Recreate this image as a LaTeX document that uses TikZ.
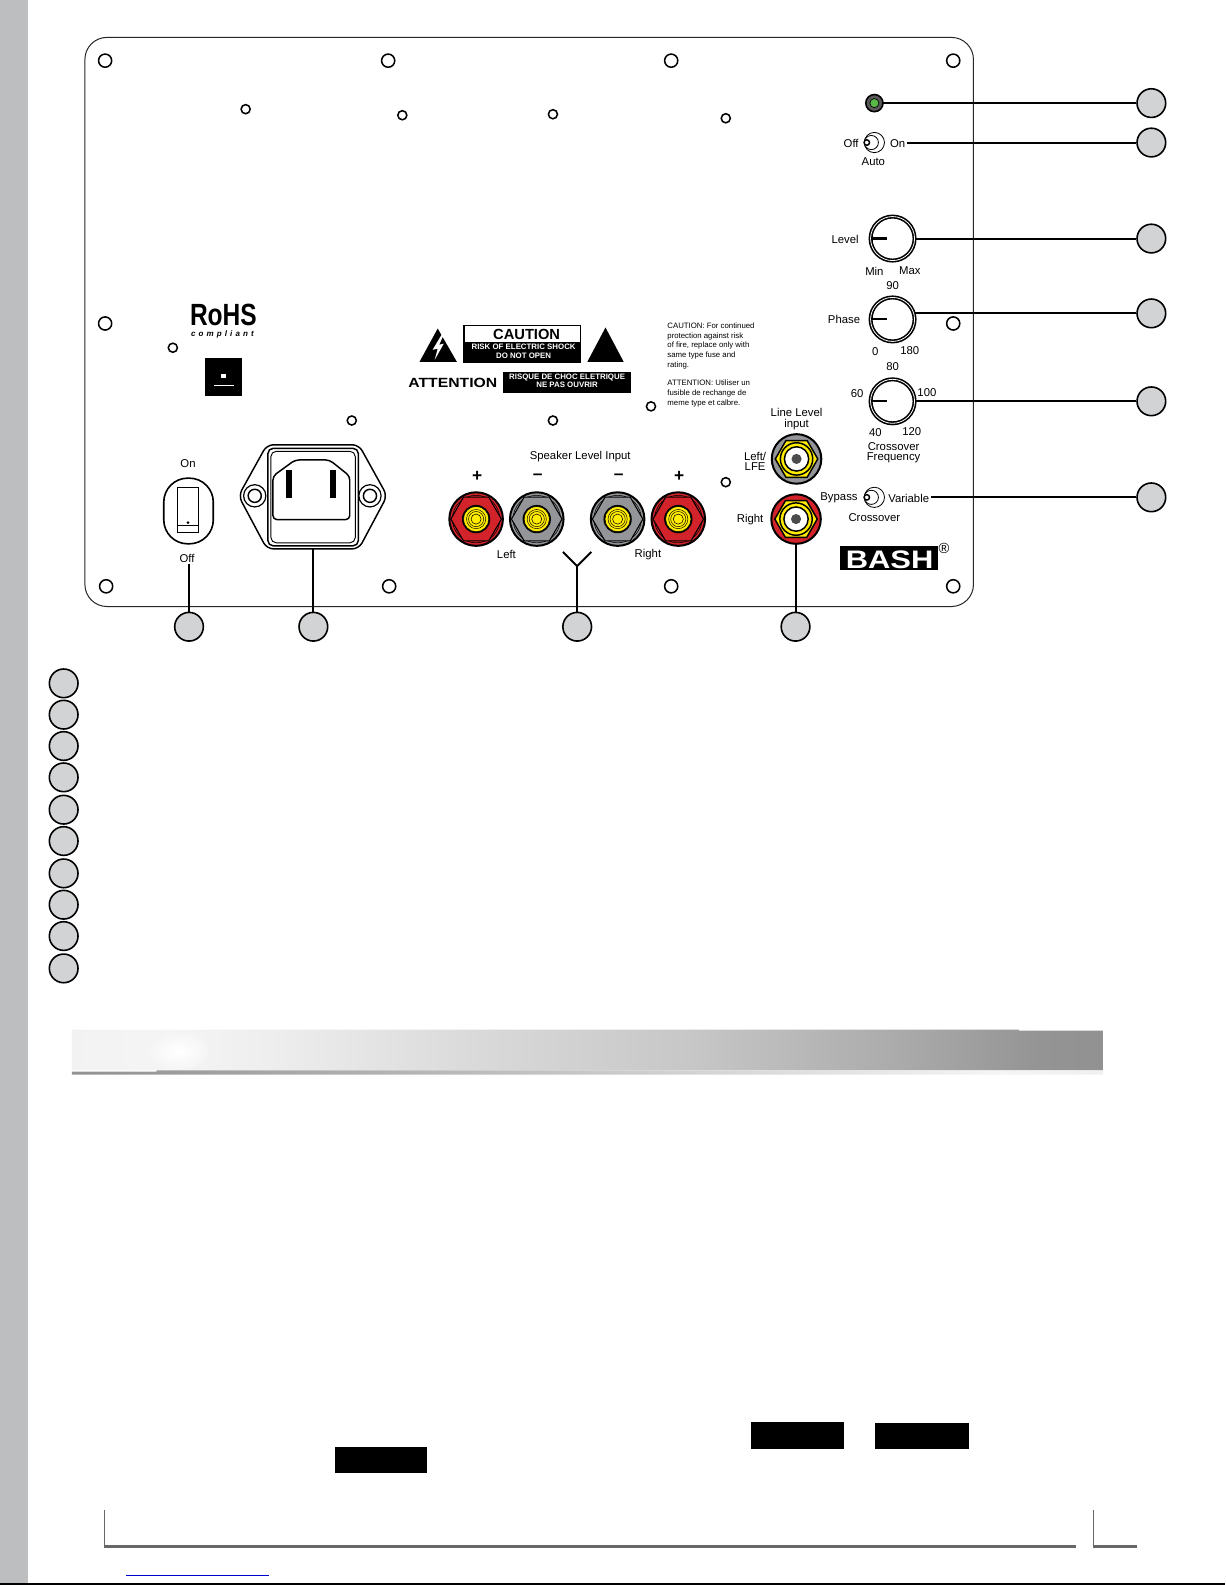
\documentclass[tikz,border=0pt]{standalone}
\usepackage{fontspec}
\setmainfont{Liberation Sans}
\usepackage{tikz, xcolor}
\usetikzlibrary{calc}
\definecolor{calltone}{HTML}{D1D3D4}
\definecolor{striptone}{HTML}{BCBEC0}
\definecolor{postred}{HTML}{D2232A}
\definecolor{postgray}{HTML}{939598}
\definecolor{postyellow}{HTML}{FFEC00}
\definecolor{ledgreen}{HTML}{58B947}
\definecolor{darkrule}{HTML}{666766}
\pgfdeclarehorizontalshading{barshade}{100bp}{color(0bp)=(white!95!black); color(25bp)=(white!95!black); color(30bp)=(white!96!black); color(35bp)=(white!93!black); color(45bp)=(white!85!black); color(55bp)=(white!78!black); color(65bp)=(white!67!black); color(72bp)=(white!58!black); color(75bp)=(white!57!black); color(100bp)=(white!57!black)}
\pgfdeclarehorizontalshading{ruleshade}{100bp}{color(0bp)=(white!57!black); color(25bp)=(white!57!black); color(50bp)=(white!78!black); color(70bp)=(white!96!black); color(75bp)=(white!94!black); color(100bp)=(white!94!black)}
\tikzset{
  lbl/.style={inner sep=0pt, yshift=-.75pt, font=\fontsize{8.5}{9}\selectfont},
  tiny lbl/.style={inner sep=0pt, align=left, font=\fontsize{5.85}{7.3}\selectfont},
  white lbl/.style={inner sep=0pt, white, align=center, font=\fontsize{5.9}{6.2}\selectfont\bfseries},
  callout/.style={circle, draw, fill=calltone, line width=1.2pt, minimum size=21.5pt, inner sep=0pt},
  knob/.style={circle, draw, fill=white, line width=1.2pt, double=white, double distance=.6pt, minimum size=33pt, inner sep=0pt},
  wire/.style={line width=1.45pt},
  hole/.style={line width=1.15pt, fill=white}
}
\newcommand{\bindpost}[3]{
  \begin{scope}[shift={(#1,#2)}]
    \draw[line width=1.5pt, fill=#3] (0,0) circle[radius=26.5];
    \draw[line width=.4pt] (0,0) circle[radius=23.5];
    \draw[line width=.8pt, fill=#3] (0:25) -- (60:25) -- (120:25) -- (180:25) -- (240:25) -- (300:25) -- cycle;
    \fill[black] (0,0) circle[radius=14];
    \draw[line width=.4pt, fill=postyellow] (0,0) circle[radius=12.5];
    \draw[line width=.35pt] (0,0) circle[radius=9.5];
    \draw[line width=.35pt] (0,0) circle[radius=7.5];
    \draw[line width=.4pt, fill=postyellow] (0,0) circle[radius=5];
  \end{scope}
}
\newcommand{\rcajack}[3]{
  \begin{scope}[shift={(#1,#2)}]
    \draw[line width=1.5pt, fill=#3] (0,0) circle[radius=24.5];
    \draw[line width=1.1pt, fill=postyellow] (0:21) -- (60:21) -- (120:21) -- (180:21) -- (240:21) -- (300:21) -- cycle;
    \draw[line width=1.1pt, fill=postyellow] (0,0) circle[radius=16];
    \draw[line width=1.1pt, fill=white] (0,0) circle[radius=12];
    \fill[black!70] (0,0) circle[radius=5];
  \end{scope}
}
\begin{document}
\begin{tikzpicture}[x=.758pt, y=-.758pt]
  \useasboundingbox (0,0) rectangle (1212,1568);
  \fill[striptone] (0,0) rectangle (28,1568);
  \draw[line width=.75pt, black!85, rounded corners=16.5pt] (84,37) rectangle (963,600);
  % mounting holes
  \foreach \x/\y in {104/60, 384/60, 664/60, 943/60, 104/320, 943/320, 105/580, 385/580, 664/580, 943/580}
    \draw[hole] (\x,\y) circle[radius=6.5];
  \foreach \x/\y in {243/108, 398/114, 547/113, 718/117, 171/344, 348/416, 547/416, 644/402, 718/477}
    \draw[hole] (\x,\y) circle[radius=4.5];

  % led and toggles
  \draw[line width=1.2pt, fill=black!65] (865,102) circle[radius=8.5];
  \draw[line width=.5pt, fill=ledgreen] (865,102) circle[radius=4.5];
  \node[circle, inner sep=0pt, minimum size=13pt] (led) at (865,102) {};
  \foreach \x/\y in {865/141, 865/492} {
    \draw[line width=.6pt, fill=white] (\x,\y) circle[radius=10];
    \draw[line width=.6pt, fill=white] (\x-3,\y) circle[radius=7];
    \draw[line width=1.1pt, fill=white] (\x-7.5,\y) circle[radius=2.7];
  }
  \node[lbl] (autooff) at (842,141) {Off};
  \node[lbl] (autoon) at (888,141) {On};
  \node[lbl] (autoname) at (864,159) {Auto};

  % knobs
  \node[knob] (levelknob) at (883,236) {};
  \node[knob] (phaseknob) at (883,316) {};
  \node[knob] (xoverknob) at (883,397) {};
  \draw[line width=2.2pt] (862,236) -- (877,236);
  \draw[line width=1.4pt] (862,316) -- (877,316);
  \draw[line width=1.6pt] (862,396.5) -- (877,396.5);
  \node[lbl] (levelname) at (836,236) {Level};
  \node[lbl] (levelmin) at (865,267) {Min};
  \node[lbl] (levelmax) at (900,267) {Max};
  \node[lbl] (phasemid) at (883,282) {90};
  \node[lbl] (phasename) at (835,315) {Phase};
  \node[lbl] (phaselow) at (866,347) {0};
  \node[lbl] (phasehigh) at (900,346) {180};
  \node[lbl] (xovermid) at (883,362) {80};
  \node[lbl] (xoverb) at (848,388) {60};
  \node[lbl] (xoverc) at (917,387) {100};
  \node[lbl] (xovera) at (866,427) {40};
  \node[lbl] (xoverd) at (902,426) {120};
  \node[lbl, align=center, font=\fontsize{8.5}{7.6}\selectfont] (xovername) at (884,447) {Crossover\\Frequency};

  \node[lbl] (bypassname) at (830,491) {Bypass};
  \node[lbl] (variablename) at (899,492) {Variable};
  \node[lbl] (crossname) at (865,511) {Crossover};

  % logos
  \node[lbl, font=\fontsize{23}{23}\selectfont\bfseries] (rohs) at (221,311) {\scalebox{.8}[1]{RoHS}};
  \node[lbl, font=\fontsize{6}{6}\selectfont\bfseries\itshape, text width=47pt, align=center] (compliant) at (220,329.5) {c\hfill o\hfill m\hfill p\hfill l\hfill i\hfill a\hfill n\hfill t};
  \fill[black] (203,354) rectangle (239,392);
  \fill[white] (218.5,370) rectangle (223.5,374);
  \draw[white, line width=.6pt] (212,381) -- (231,381);

  \fill[black] (415,358) -- (433,325) -- (452,358) -- cycle;
  \fill[white] (437,331) -- (428,346) -- (433,345) -- (430,356) -- (439,340) -- (434.5,341) -- (439,331) -- cycle;
  \fill[black] (581,358) -- (599,324) -- (617,358) -- cycle;
  \draw[line width=.9pt, fill=white] (459,322) rectangle (574.5,339);
  \fill[black] (458.5,338) rectangle (575,359);
  \node[lbl, font=\fontsize{11}{11}\selectfont\bfseries] (cautionname) at (521,330) {CAUTION};
  \node[white lbl] (cautionrisk) at (518,347.5) {RISK OF ELECTRIC SHOCK\\DO NOT OPEN};
  \node[lbl, font=\fontsize{10}{10}\selectfont\bfseries] (attentionname) at (448,378) {\scalebox{1.18}[1]{ATTENTION}};
  \fill[black] (498,368) rectangle (624,389);
  \node[white lbl] (attentionrisk) at (561,377) {RISQUE DE CHOC ELETRIQUE\\NE PAS OUVRIR};
  \node[tiny lbl, anchor=north west] (fusenote) at (660,319) {CAUTION: For continued\\protection against risk\\of fire, replace only with\\same type fuse and\\rating.\\[6.5pt]ATTENTION: Utiliser un\\fusible de rechange de\\meme type et calbre.};

  % rocker
  \draw[line width=1.2pt, rounded corners=18pt] (162,473) rectangle (211,538);
  \draw[line width=.7pt, fill=white] (176,482) rectangle (196,527);
  \draw[line width=.7pt] (176,520) -- (196,520);
  \fill[black] (186,517) circle[radius=1.4];
  \node[lbl] (rockeron) at (186,458) {On};
  \node[lbl] (rockeroff) at (185,551) {Off};

  % fuse module
  \draw[line width=1.1pt, rounded corners=5pt] (236,490.5) -- (264,440) -- (355,440) -- (383,490.5) -- (355,543) -- (264,543) -- cycle;
  \draw[line width=1.1pt, fill=white, rounded corners=4pt] (265,443.5) rectangle (354.5,540);
  \draw[line width=.7pt, rounded corners=4pt] (268,446.5) rectangle (351.5,537);
  \draw[line width=1.1pt, rounded corners=3pt] (270,471) -- (292,455) -- (326,455) -- (346,471) -- (346,514) -- (270,514) -- cycle;
  \fill[black] (283,465) rectangle (289,493);
  \fill[black] (326,465) rectangle (332,493);
  \foreach \x in {252,366} {
    \draw[line width=.9pt, fill=white] (\x,490.5) circle[radius=11];
    \draw[line width=1.1pt, fill=white] (\x,490.5) circle[radius=6.5];
  }

  % posts
  \bindpost{471}{513.5}{postred}
  \bindpost{531}{513.5}{postgray}
  \bindpost{611}{513.5}{postgray}
  \bindpost{671}{513.5}{postred}
  \rcajack{788}{454}{postgray}
  \rcajack{787.5}{513.5}{postred}
  \node[lbl] (speakername) at (574,451) {Speaker Level Input};
  \foreach \x/\s [count=\i] in {472/+, 532/--, 612/--, 672/+}
    \node[lbl, font=\fontsize{13}{13}\selectfont\bfseries] (sign\i) at (\x,470.5) {\s};
  \node[lbl] (leftname) at (501,548) {Left};
  \node[lbl] (rightname) at (641,548) {Right};
  \node[lbl, align=center, font=\fontsize{8.5}{8.2}\selectfont] (linename) at (788,413.5) {Line Level\\input};
  \node[lbl, align=center, font=\fontsize{8.5}{7.2}\selectfont] (lfename) at (747,455.5) {Left/\\LFE};
  \node[lbl] (rcaright) at (742,513) {Right};
  \coordinate (fusebot) at (310,543);
  \coordinate (rcabot) at (787,538);
  \coordinate (forkroot) at (571,560);
  \coordinate (forkleft) at (557,546);
  \coordinate (forkright) at (585,546);

  % bash badge
  \fill[black] (831,540) rectangle (928,564);
  \node[lbl, white, font=\fontsize{19}{19}\selectfont\bfseries] (bashname) at (880,552.5) {\scalebox{1.22}[1]{BASH}};
  \node[lbl, font=\fontsize{11}{11}\selectfont] (bashmark) at (934,542) {®};

  % callouts
  \foreach \y [count=\i] in {102,141,236,310,397,492}
    \node[callout] (r\i) at (1139,\y) {};
  \foreach \x [count=\i] in {187,310,571,787}
    \node[callout] (b\i) at (\x,620) {};
  \foreach \y [count=\i] in {676,707,738,769,801,832,864,895,926,958}
    \node[callout] (l\i) at (63,\y) {};

  \draw[wire] (led) -- (r1);
  \draw[wire, shorten <=1.5pt] (autoon.east |- r2) -- (r2);
  \draw[wire] (levelknob) -- (r3);
  \draw[wire] (r4) -- (r4 -| phaseknob.16);
  \draw[wire] (xoverknob) -- (r5);
  \draw[wire, shorten <=1pt] (variablename.east |- r6) -- (r6);
  \draw[wire, shorten <=1pt] (rockeroff.south -| b1) -- (b1);
  \draw[wire] (fusebot) -- (b2);
  \draw[wire] (forkroot) -- (b3);
  \draw[wire] (forkleft) -- (forkroot) -- (forkright);
  \draw[wire] (rcabot) -- (b4);

  % gradient bar
  \shade[shading=barshade] (71,1018.5) -- (1008,1018.5) -- (1008,1019.5) -- (1091,1019.5) -- (1091,1059) -- (71,1059) -- cycle;
  \shade[inner color=white, outer color=white!96!black] (176,1040) ellipse[x radius=30, y radius=18];
  \shade[shading=ruleshade] (155,1059) -- (1091,1059) -- (1091,1063) -- (71,1063) -- (71,1060) -- (155,1060) -- cycle;

  % masked words
  \fill[black] (743,1407) rectangle (835,1433);
  \fill[black] (866,1408) rectangle (959,1433);
  \fill[black] (331,1431) rectangle (422,1457);

  % footer
  \draw[darkrule, line width=1pt] (103.5,1494) -- (103.5,1530);
  \draw[darkrule, line width=2.4pt] (103,1530) -- (1064,1530);
  \draw[darkrule, line width=1pt] (1081.5,1494) -- (1081.5,1530);
  \draw[darkrule, line width=2.4pt] (1081,1530) -- (1125,1530);
  \draw[blue!80!black, line width=.9pt] (125,1558.5) -- (266,1558.5);
  \draw[black, line width=1.6pt] (0,1567) -- (1212,1567);
\end{tikzpicture}
\end{document}
